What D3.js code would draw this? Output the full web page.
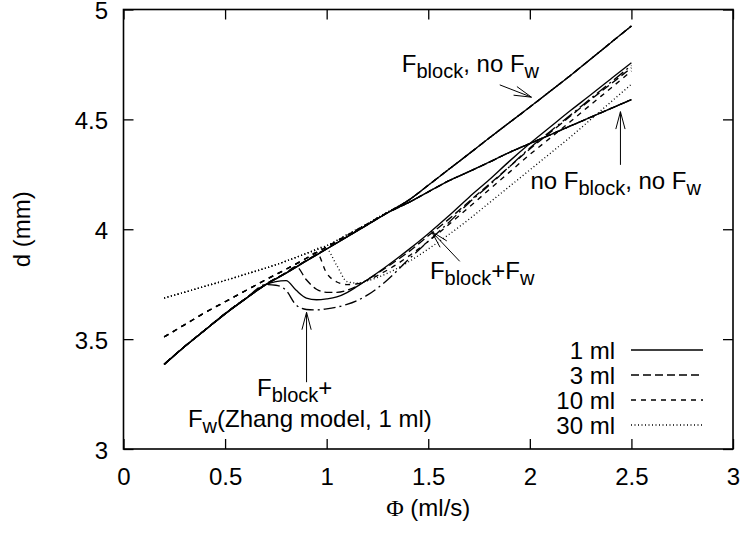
<!DOCTYPE html>
<html>
<head>
<meta charset="utf-8">
<script src="https://cdn.jsdelivr.net/npm/d3@7"></script>
<style>
  body { margin: 0; background: #fff; }
  svg { display: block; }
  text { font-family: "Liberation Sans", Arial, Helvetica, sans-serif; fill: #000; white-space: pre; }
</style>
</head>
<body>
<div id="chart"></div>
<script>
// volumes and their line styles (legend order)
const volumes = ["1 ml", "3 ml", "10 ml", "30 ml"];

// common part, same for all models, per volume
const phiLow = [0.2, 0.3, 0.4, 0.5, 0.6, 0.7, 0.8, 0.9, 1.0, 1.1, 1.2, 1.3];
const dLow1ml  = [3.384, 3.465, 3.54, 3.615, 3.683, 3.748, 3.80, 3.856, 3.91, 3.965, 4.02, 4.075];
const dLow3ml  = [3.386, 3.466, 3.541, 3.616, 3.684, 3.749, 3.802, 3.858, 3.912, 3.966, 4.021, 4.075];
const dLow10ml = [3.51, 3.565, 3.62, 3.67, 3.72, 3.77, 3.818, 3.868, 3.92, 3.972, 4.024, 4.077];
const dLow30ml = [3.687, 3.713, 3.74, 3.767, 3.795, 3.823, 3.855, 3.89, 3.925, 3.975, 4.025, 4.078];

// F_block, no F_w  and  no F_block, no F_w (upper branches)
const phiHigh = [1.4, 1.5, 1.6, 1.7, 1.8, 1.9, 2.0, 2.1, 2.2, 2.3, 2.4, 2.5];
const dBlockNoFw   = [4.13, 4.20, 4.272, 4.343, 4.415, 4.486, 4.556, 4.628, 4.70, 4.775, 4.85, 4.925];
const dNoBlockNoFw = [4.12, 4.17, 4.22, 4.262, 4.305, 4.35, 4.39, 4.43, 4.47, 4.51, 4.55, 4.59];

// F_block + F_w branches
const phiFw1ml = [0.7, 0.75, 0.8, 0.85, 0.9, 0.95, 1.0, 1.05, 1.1, 1.15, 1.2, 1.3, 1.4, 1.5, 1.6, 1.7, 1.8, 1.9, 2.0, 2.1, 2.2, 2.3, 2.4, 2.5];
const dFw1ml   = [3.748, 3.762, 3.766, 3.722, 3.687, 3.679, 3.683, 3.692, 3.712, 3.74, 3.77, 3.835, 3.905, 3.98, 4.06, 4.145, 4.225, 4.31, 4.39, 4.465, 4.54, 4.612, 4.685, 4.758];
const phiFw3ml = [0.85, 0.9, 0.95, 1.0, 1.05, 1.1, 1.15, 1.2, 1.3, 1.4, 1.5, 1.6, 1.7, 1.8, 1.9, 2.0, 2.1, 2.2, 2.3, 2.4, 2.5];
const dFw3ml   = [3.83, 3.77, 3.727, 3.713, 3.713, 3.722, 3.742, 3.77, 3.83, 3.895, 3.97, 4.045, 4.125, 4.205, 4.285, 4.365, 4.44, 4.515, 4.59, 4.662, 4.735];
const phiFw10ml = [0.95, 1.0, 1.05, 1.1, 1.15, 1.2, 1.3, 1.4, 1.5, 1.6, 1.7, 1.8, 1.9, 2.0, 2.1, 2.2, 2.3, 2.4, 2.5];
const dFw10ml   = [3.894, 3.80, 3.76, 3.748, 3.752, 3.768, 3.815, 3.875, 3.945, 4.02, 4.10, 4.18, 4.26, 4.34, 4.415, 4.49, 4.567, 4.643, 4.72];
const phiFw30ml = [0.99, 1.05, 1.1, 1.15, 1.2, 1.3, 1.4, 1.5, 1.6, 1.7, 1.8, 1.9, 2.0, 2.1, 2.2, 2.3, 2.4, 2.5];
const dFw30ml   = [3.92, 3.835, 3.762, 3.755, 3.765, 3.80, 3.85, 3.91, 3.975, 4.045, 4.12, 4.195, 4.27, 4.345, 4.42, 4.50, 4.58, 4.66];

// F_block + F_w (Zhang model, 1 ml)
const phiZhang = [0.7, 0.75, 0.8, 0.85, 0.9, 0.95, 1.0, 1.1, 1.2, 1.3, 1.4, 1.5, 1.6, 1.7, 1.8, 1.9, 2.0, 2.1, 2.2, 2.3, 2.4, 2.5];
const dZhang   = [3.748, 3.745, 3.722, 3.655, 3.635, 3.633, 3.638, 3.658, 3.70, 3.77, 3.86, 3.945, 4.03, 4.12, 4.20, 4.285, 4.37, 4.445, 4.52, 4.595, 4.67, 4.745];

const xTicks = [0, 0.5, 1, 1.5, 2, 2.5, 3];
const yTicks = [3, 3.5, 4, 4.5, 5];

const dashes = ["none", "8,4", "5,5", "1,2.5"];
const zhangDash = "12,4,2,4";

const width = 745, height = 535;
const svg = d3.select("#chart").append("svg")
  .attr("width", width)
  .attr("height", height);

svg.append("rect").attr("width", width).attr("height", height).attr("fill", "#fff");

const x = d3.scaleLinear().domain([0, 3]).range([123.5, 733]);
const y = d3.scaleLinear().domain([3, 5]).range([449, 9.5]);

const zip = (a, b) => a.map((v, i) => [v, b[i]]);
const line = d3.line().x(d => x(d[0])).y(d => y(d[1])).curve(d3.curveMonotoneX);

const lows = [dLow1ml, dLow3ml, dLow10ml, dLow30ml];
const fws = [[phiFw1ml, dFw1ml], [phiFw3ml, dFw3ml], [phiFw10ml, dFw10ml], [phiFw30ml, dFw30ml]];

const curves = svg.append("g").attr("fill", "none").attr("stroke", "#000").attr("stroke-width", 1.35);

lows.forEach((low, i) => {
  const lowPts = zip(phiLow, low);
  // no F_block, no F_w
  curves.append("path").attr("d", line(lowPts.concat(zip(phiHigh, dNoBlockNoFw))))
    .attr("stroke-dasharray", dashes[i]);
  // F_block, no F_w
  curves.append("path").attr("d", line(lowPts.concat(zip(phiHigh, dBlockNoFw))))
    .attr("stroke-dasharray", dashes[i]);
  // F_block + F_w
  const fw = fws[i];
  const start = fw[0][0];
  curves.append("path").attr("d", line(lowPts.filter(p => p[0] < start - 1e-9).concat(zip(fw[0], fw[1]))))
    .attr("stroke-dasharray", dashes[i]);
});

// Zhang model
curves.append("path")
  .attr("d", line(zip(phiLow, dLow1ml).filter(p => p[0] < 0.7 - 1e-9).concat(zip(phiZhang, dZhang))))
  .attr("stroke-dasharray", zhangDash);

// frame
svg.append("rect")
  .attr("x", x(0)).attr("y", y(5))
  .attr("width", x(3) - x(0)).attr("height", y(3) - y(5))
  .attr("fill", "none").attr("stroke", "#000").attr("stroke-width", 1.6);

function styleAxis(g) {
  g.select(".domain").remove();
  g.selectAll(".tick line").attr("stroke", "#000").attr("stroke-width", 1.3);
  g.selectAll("text").attr("font-size", 24).attr("font-family", "'Liberation Sans', Arial, sans-serif").attr("fill", "#000");
}

svg.append("g").attr("transform", `translate(0,${y(3)})`)
  .call(d3.axisBottom(x).tickValues(xTicks).tickSize(-10).tickSizeOuter(0).tickPadding(19).tickFormat(d3.format("")))
  .call(styleAxis);
svg.append("g").attr("transform", `translate(0,${y(5)})`)
  .call(d3.axisTop(x).tickValues(xTicks).tickSize(-10).tickSizeOuter(0).tickFormat(""))
  .call(styleAxis);
svg.append("g").attr("transform", `translate(${x(0)},0)`)
  .call(d3.axisLeft(y).tickValues(yTicks).tickSize(-10).tickSizeOuter(0).tickPadding(15.5).tickFormat(d3.format("")))
  .call(styleAxis)
  .call(g => g.selectAll("text").attr("dy", "0.38em"));
svg.append("g").attr("transform", `translate(${x(3)},0)`)
  .call(d3.axisRight(y).tickValues(yTicks).tickSize(-10).tickSizeOuter(0).tickFormat(""))
  .call(styleAxis);

// axis titles
svg.append("text")
  .attr("transform", `translate(30,${(y(3) + y(5)) / 2}) rotate(-90)`)
  .attr("text-anchor", "middle").attr("font-size", 24)
  .text("d (mm)");

const xt = svg.append("text")
  .attr("x", (x(0) + x(3)) / 2).attr("y", 516)
  .attr("text-anchor", "middle").attr("font-size", 24);
xt.append("tspan").attr("font-family", "'Liberation Serif', 'Times New Roman', serif").text("\u03A6");
xt.append("tspan").text(" (ml/s)");

// legend
const legend = svg.append("g");
volumes.forEach((v, i) => {
  const ly = 350 + i * 25;
  legend.append("text").attr("x", 615).attr("y", ly + 8.5)
    .attr("text-anchor", "end").attr("font-size", 24).text(v);
  legend.append("line").attr("x1", 631).attr("x2", 703).attr("y1", ly).attr("y2", ly)
    .attr("stroke", "#000").attr("stroke-width", 1.35).attr("stroke-dasharray", dashes[i]);
});

// annotations (data coordinates of text baseline start)
const labels = [
  { phi: 1.37, d: 4.716, parts: [["F"], ["block", 1], [", no F"], ["w", 1]] },
  { phi: 2.003, d: 4.184, parts: [["no F"], ["block", 1], [", no F"], ["w", 1]] },
  { phi: 1.508, d: 3.775, parts: [["F"], ["block", 1], ["+F"], ["w", 1]] },
  { phi: 0.657, d: 3.239, parts: [["F"], ["block", 1], ["+"]] },
  { phi: 0.317, d: 3.102, parts: [["F"], ["w", 1], ["(Zhang model, 1 ml)"]] }
];
const arrows = [
  { from: [1.852, 4.657], to: [2.008, 4.601] },
  { from: [2.446, 4.293], to: [2.446, 4.535] },
  { from: [1.655, 3.854], to: [1.516, 3.99] },
  { from: [0.901, 3.304], to: [0.901, 3.622] }
];

labels.forEach(l => {
  const t = svg.append("text").attr("x", x(l.phi)).attr("y", y(l.d)).attr("font-size", 24);
  let shifted = false;
  l.parts.forEach(p => {
    const s = t.append("tspan").text(p[0]);
    if (p[1]) {
      s.attr("font-size", 20).attr("dy", 6);
      shifted = true;
    } else if (shifted) {
      s.attr("dy", -6);
      shifted = false;
    }
  });
});

const arrowG = svg.append("g").attr("stroke", "#000").attr("stroke-width", 1).attr("fill", "none");
arrows.forEach(a => {
  const x1 = x(a.from[0]), y1 = y(a.from[1]), x2 = x(a.to[0]), y2 = y(a.to[1]);
  arrowG.append("line").attr("x1", x1).attr("y1", y1).attr("x2", x2).attr("y2", y2);
  const ang = Math.atan2(y1 - y2, x1 - x2);
  const len = 18, spread = 0.26;
  [ang - spread, ang + spread].forEach(b => {
    arrowG.append("line").attr("x1", x2).attr("y1", y2)
      .attr("x2", x2 + len * Math.cos(b)).attr("y2", y2 + len * Math.sin(b));
  });
});
</script>
</body>
</html>
